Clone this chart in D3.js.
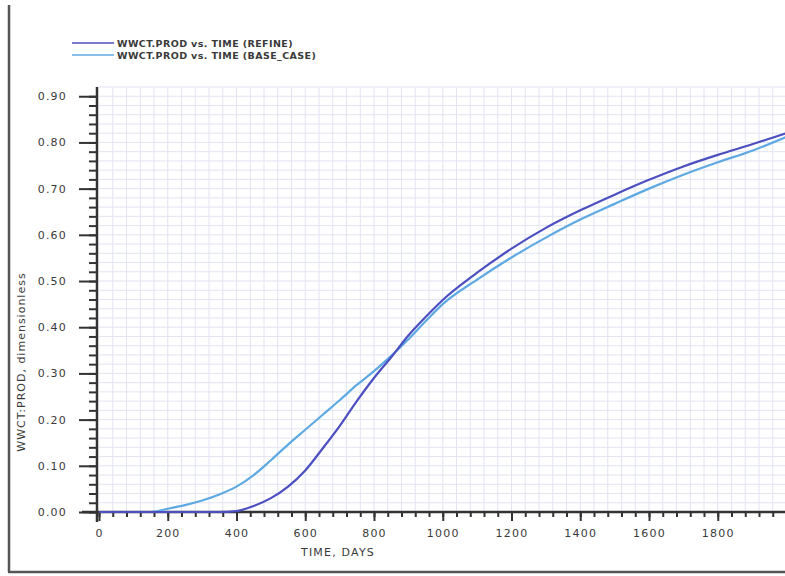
<!DOCTYPE html>
<html>
<head>
<meta charset="utf-8">
<script src="https://cdn.jsdelivr.net/npm/d3@7"></script>
<style>
  body { margin: 0; background: #fff; }
  svg { display: block; }
  text { font-family: "DejaVu Sans", sans-serif; fill: #3a3a3a; }
</style>
</head>
<body>
<svg width="785" height="576"></svg>
<script>
'use strict';

const days = [0, 100, 150, 200, 250, 300, 350, 400, 450, 500, 550, 600, 650, 700, 750,
  800, 850, 900, 950, 1000, 1100, 1200, 1300, 1400, 1500, 1600, 1700, 1800, 1900, 2000];

const wwct_refine = [0, 0, 0, 0, 0, 0, 0, 0.002, 0.013, 0.03, 0.055, 0.09, 0.137, 0.186, 0.24,
  0.29, 0.335, 0.382, 0.422, 0.459, 0.518, 0.57, 0.615, 0.653, 0.687, 0.719, 0.748, 0.773, 0.796, 0.82];

const wwct_base = [0, 0, 0, 0.007, 0.015, 0.025, 0.038, 0.055, 0.08, 0.112, 0.146, 0.178, 0.21, 0.242, 0.275,
  0.305, 0.338, 0.374, 0.413, 0.45, 0.503, 0.551, 0.594, 0.633, 0.667, 0.70, 0.73, 0.757, 0.782, 0.812];

const x_ticks = [0, 200, 400, 600, 800, 1000, 1200, 1400, 1600, 1800];
const y_ticks = [0, 0.1, 0.2, 0.3, 0.4, 0.5, 0.6, 0.7, 0.8, 0.9];

const series = [
  { name: 'WWCT.PROD vs. TIME (REFINE)', values: wwct_refine, color: '#4b4fbf' },
  { name: 'WWCT.PROD vs. TIME (BASE_CASE)', values: wwct_base, color: '#5fa9e3' }
];

const svg = d3.select('svg');

const x = d3.scaleLinear().domain([0, 2000]).range([99, 786.5]);
const y = d3.scaleLinear().domain([0, 0.92]).range([512, 87]);

// outer frame (left + bottom only, rest cropped)
svg.append('line').attr('x1', 9).attr('x2', 9).attr('y1', 5).attr('y2', 572)
  .attr('stroke', '#555').attr('stroke-width', 2.5);
svg.append('line').attr('x1', 8).attr('x2', 785).attr('y1', 572).attr('y2', 572)
  .attr('stroke', '#555').attr('stroke-width', 2.5);

// grid
const grid = svg.append('g');
grid.selectAll('line.v').data(d3.range(40, 2001, 40)).join('line')
  .attr('x1', d => x(d)).attr('x2', d => x(d))
  .attr('y1', y(0.92)).attr('y2', y(0))
  .attr('stroke', '#e2e4f1').attr('stroke-width', 1);
grid.selectAll('line.h').data(d3.range(1, 47).map(i => i * 0.02)).join('line')
  .attr('x1', x(0)).attr('x2', 785)
  .attr('y1', d => y(d)).attr('y2', d => y(d))
  .attr('stroke', '#e2e4f1').attr('stroke-width', 1);

// x axis
const xAxisMinor = d3.axisBottom(x).tickValues(d3.range(0, 2001, 40)).tickSize(5).tickFormat('');
const xAxisMajor = d3.axisBottom(x).tickValues(x_ticks).tickSize(9).tickPadding(8).tickFormat(d3.format('d'));
const gxm = svg.append('g').attr('transform', `translate(0,${y(0)})`).call(xAxisMinor);
const gx = svg.append('g').attr('transform', `translate(0,${y(0)})`).call(xAxisMajor);
[gxm, gx].forEach(g => {
  g.select('.domain').remove();
  g.selectAll('line').attr('stroke', '#333').attr('stroke-width', 2);
});
gx.selectAll('text').attr('font-size', 11).attr('letter-spacing', 1.2).attr('fill', '#3a3a3a');
svg.append('line').attr('x1', 82).attr('x2', 785).attr('y1', y(0)).attr('y2', y(0))
  .attr('stroke', '#333').attr('stroke-width', 2.5);

// y axis
const yAxisMinor = d3.axisLeft(y).tickValues(d3.range(0, 46).map(i => i * 0.02)).tickSize(8).tickFormat('');
const yAxisMajor = d3.axisLeft(y).tickValues(y_ticks).tickSize(18).tickPadding(12).tickFormat(d3.format('.2f'));
const gym = svg.append('g').attr('transform', `translate(${x(0) - 2},0)`).call(yAxisMinor);
const gy = svg.append('g').attr('transform', `translate(${x(0) - 2},0)`).call(yAxisMajor);
[gym, gy].forEach(g => {
  g.select('.domain').remove();
  g.selectAll('line').attr('stroke', '#333').attr('stroke-width', 2);
});
gy.selectAll('text').attr('font-size', 11).attr('letter-spacing', 1.2).attr('fill', '#3a3a3a');
svg.append('line').attr('x1', x(0) - 2).attr('x2', x(0) - 2).attr('y1', y(0.92)).attr('y2', 522)
  .attr('stroke', '#333').attr('stroke-width', 2.5);

// axis titles
svg.append('text').attr('x', 338).attr('y', 556).attr('text-anchor', 'middle')
  .attr('font-size', 11).attr('letter-spacing', 1.2).text('TIME, DAYS');
svg.append('text').attr('transform', 'translate(25,362) rotate(-90)').attr('text-anchor', 'middle')
  .attr('font-size', 11).attr('letter-spacing', 1).text('WWCT:PROD, dimensionless');

// curves
const line = d3.line().x((d, i) => x(days[i])).y(d => y(d)).curve(d3.curveMonotoneX);
svg.append('g').selectAll('path').data(series.slice().reverse()).join('path')
  .attr('d', d => line(d.values))
  .attr('fill', 'none')
  .attr('stroke', d => d.color)
  .attr('stroke-width', 2.2);

// legend
const legend = svg.append('g');
series.forEach((s, i) => {
  const ly = 43 + i * 12;
  legend.append('line').attr('x1', 72).attr('x2', 114).attr('y1', ly).attr('y2', ly)
    .attr('stroke', s.color).attr('stroke-width', 1.5);
  legend.append('text').attr('x', 117).attr('y', ly + 3.5).attr('font-size', 9.5)
    .attr('font-weight', 'bold').attr('letter-spacing', 0.4).attr('fill', '#444').text(s.name);
});
</script>
</body>
</html>
